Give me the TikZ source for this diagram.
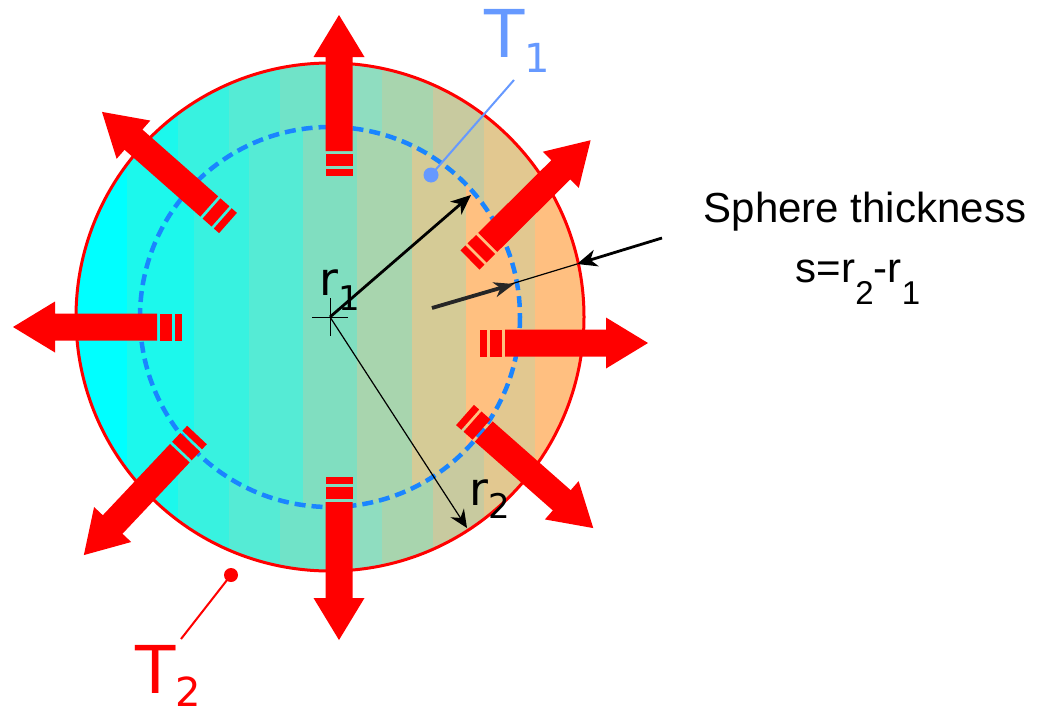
\documentclass[tikz,border=0pt]{standalone}
\usepackage{fontspec}
\setmainfont{DejaVu Sans}
\newfontfamily\arialfont{Liberation Sans}
\usetikzlibrary{arrows.meta}
\definecolor{oA}{HTML}{00FFFF}
\definecolor{oB}{HTML}{1CF8EC}
\definecolor{oC}{HTML}{38F2E0}
\definecolor{oD}{HTML}{55EBD5}
\definecolor{oE}{HTML}{70E3C8}
\definecolor{oF}{HTML}{8FDDC0}
\definecolor{oG}{HTML}{A8D5AE}
\definecolor{oH}{HTML}{C8CA9F}
\definecolor{oI}{HTML}{E2C890}
\definecolor{oJ}{HTML}{FFBF80}
\definecolor{iA}{HTML}{1CF8EC}
\definecolor{iB}{HTML}{38F2E0}
\definecolor{iC}{HTML}{55EBD5}
\definecolor{iD}{HTML}{80DEC0}
\definecolor{iE}{HTML}{A8D5AE}
\definecolor{iF}{HTML}{D5CB96}
\definecolor{iG}{HTML}{FFC080}
\definecolor{dashblue}{HTML}{1A85FF}
\definecolor{tone}{HTML}{6699FF}
\definecolor{pred}{HTML}{FF0000}
\newcommand\redarrow[3]{%
  \begin{scope}[shift={#1},rotate=#2]
    \fill[pred] (0,-13.5) rectangle (7,13.5);
    \fill[pred] (10,-13.5) rectangle (22,13.5);
    \fill[pred] (25,-13.5) -- (#3-42,-13.5) -- (#3-42,-25.5) -- (#3,0)
      -- (#3-42,25.5) -- (#3-42,13.5) -- (25,13.5) -- cycle;
  \end{scope}}
\tikzset{
  blackarrow/.style={draw=black, line width=2.8pt, -{Stealth[length=20pt,width=17pt,inset=6pt]}},
  thinarrow/.style={draw=black, line width=1.2pt, -{Stealth[length=18pt,width=16pt,inset=6pt]}},
  leader/.style={line width=2pt},
  lbl/.style={inner sep=0pt, anchor=base west}
}
\begin{document}
\begin{tikzpicture}[x=1pt,y=-1pt]
\useasboundingbox (0,0) rectangle (1047,715);
\coordinate (C) at (330,317);
% outer stripes
\begin{scope}
  \clip (C) circle (254);
  \foreach \c [count=\i from 0] in {oA,oB,oC,oD,oE,oF,oG,oH,oI,oJ}
    \fill[\c] ({76+51*\i},50) rectangle ({76+51*(\i+1)+0.6},600);
\end{scope}
% inner stripes
\begin{scope}
  \clip (C) circle (190);
  \foreach \c [count=\i from 0] in {iA,iB,iC,iD,iE,iF,iG}
    \fill[\c] ({140+54.3*\i},100) rectangle ({140+54.3*(\i+1)+0.6},540);
\end{scope}
\draw[pred, line width=3pt] (C) circle (254);
\draw[dashblue, line width=4.5pt, dash pattern=on 11pt off 6pt] (C) circle (190);

% red arrows
\redarrow{(339,176)}{90}{161}
\redarrow{(339,477)}{-90}{163}
\redarrow{(182,327)}{180}{169}
\redarrow{(480,343)}{0}{168}
\redarrow{(228,223)}{138.6}{168}
\redarrow{(470,260)}{44.8}{170}
\redarrow{(465,415)}{-41.4}{171}
\redarrow{(197,435)}{-133.3}{165}

% centre cross
\coordinate (cl) at (312,317); \coordinate (cr) at (348,317);
\coordinate (ct) at (330,298); \coordinate (cb) at (330,336);
\draw[line width=1pt] (cl) -- (cr) (ct) -- (cb);

% radii
\coordinate (r1tip) at (471,195);
\coordinate (r2tip) at (467,528);
\draw[blackarrow] (C) -- (r1tip);
\draw[thinarrow] (C) -- (r2tip);

% thickness arrows
\coordinate (S0) at (662,238);
\coordinate (S1) at (577,264);
\coordinate (S2) at (432,308);
\coordinate (S3) at (514,284);
\draw[blackarrow] (S0) -- (S1);
\draw[line width=1.2pt] (S1) -- (S2);
\draw[draw=black!85, line width=3.8pt, -{Stealth[length=20pt,width=15pt,inset=6pt]}] (S2) -- (S3);

% T1 leader
\node[circle, fill=tone, inner sep=0pt, minimum size=15pt] (d1) at (431,175) {};
\coordinate (l1) at (514,80);
\draw[tone, leader] (l1) -- (d1.center);
% T2 leader
\node[circle, fill=pred, inner sep=0pt, minimum size=14pt] (d2) at (231,575) {};
\coordinate (l2) at (181,639);
\draw[pred, leader] (l2) -- (d2.center);

% labels
\node[lbl, text=tone] (T1) at (484,57) {\fontsize{66}{66}\selectfont T\raisebox{-15pt}{\fontsize{40}{40}\selectfont 1}};
\node[lbl, text=pred] (T2) at (135,693) {\fontsize{66}{66}\selectfont T\raisebox{-13pt}{\fontsize{40}{40}\selectfont 2}};
\node[lbl] (r1) at (319,295) {\fontsize{46}{46}\selectfont r\raisebox{-15pt}{\fontsize{34}{34}\selectfont 1}};
\node[lbl] (r2) at (469,505) {\fontsize{46}{46}\selectfont r\raisebox{-13pt}{\fontsize{34}{34}\selectfont 2}};
\node[inner sep=0pt, anchor=base] (s1) at (865,222) {\arialfont\fontsize{42}{42}\selectfont Sphere thickness};
\node[inner sep=0pt, anchor=base] (s2) at (858,282) {\arialfont\fontsize{42}{42}\selectfont s=r\raisebox{-22pt}{\fontsize{33}{33}\selectfont 2}-r\raisebox{-22pt}{\fontsize{33}{33}\selectfont 1}};
\end{tikzpicture}
\end{document}
